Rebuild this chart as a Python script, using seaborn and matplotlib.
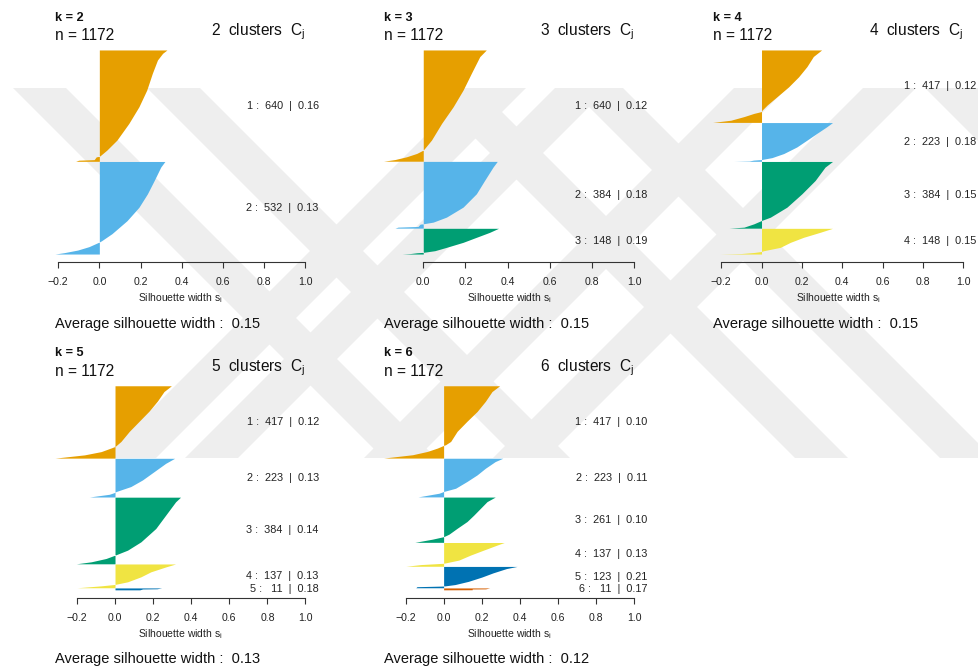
import numpy as np
import matplotlib
matplotlib.use("Agg")
import matplotlib.pyplot as plt
from matplotlib.patches import Polygon
from matplotlib.transforms import blended_transform_factory
import seaborn as sns

# ---------------------------------------------------------------- data
N_OBS = 1172
CLUSTER_COLORS = ["#E69F00", "#56B4E9", "#009E73", "#F0E442", "#0072B2", "#D55E00"]
X_TICKS = [-0.2, 0.0, 0.2, 0.4, 0.6, 0.8, 1.0]

K2_SIZES = [640, 532]
K2_AVG = [0.16, 0.13]
K2_TOTAL_AVG = 0.15
# sorted silhouette widths of each cluster: (position inside the cluster 0..1, width)
K2_PROFILES = [
    [(0, 0.328), (0.03, 0.307), (0.09, 0.282), (0.21, 0.257), (0.36, 0.23), (0.51, 0.192),
     (0.66, 0.143), (0.81, 0.085), (0.90, 0.036), (0.945, 0.007), (0.955, 0.0), (0.96, -0.015),
     (0.985, -0.025), (0.99, -0.1), (1.0, -0.115)],
    [(0, 0.318), (0.06, 0.298), (0.206, 0.266), (0.35, 0.233), (0.495, 0.192), (0.64, 0.134),
     (0.78, 0.061), (0.856, 0.011), (0.87, 0.0), (0.92, -0.05), (0.957, -0.105), (0.985, -0.17),
     (1.0, -0.215)],
]

K3_SIZES = [640, 384, 148]
K3_AVG = [0.12, 0.18, 0.19]
K3_TOTAL_AVG = 0.15
K3_PROFILES = [
    [(0, 0.299), (0.06, 0.268), (0.21, 0.228), (0.36, 0.189), (0.51, 0.142), (0.66, 0.087),
     (0.81, 0.039), (0.87, 0.013), (0.90, 0.0), (0.93, -0.031), (0.96, -0.079), (0.985, -0.134),
     (1.0, -0.188)],
    [(0, 0.351), (0.085, 0.331), (0.285, 0.291), (0.485, 0.252), (0.685, 0.189), (0.835, 0.11),
     (0.91, 0.047), (0.935, 0.0), (0.94, -0.015), (0.975, -0.025), (0.985, -0.12), (1.0, -0.134)],
    [(0, 0.357), (0.156, 0.315), (0.35, 0.252), (0.545, 0.189), (0.74, 0.11), (0.87, 0.055),
     (0.935, 0.0), (0.95, -0.03), (0.98, -0.06), (1.0, -0.1)],
]

K4_SIZES = [417, 223, 384, 148]
K4_AVG = [0.12, 0.18, 0.15, 0.15]
K4_TOTAL_AVG = 0.15
K4_PROFILES = [
    [(0, 0.298), (0.09, 0.257), (0.23, 0.225), (0.37, 0.184), (0.51, 0.134), (0.645, 0.077),
     (0.76, 0.028), (0.83, 0.003), (0.85, 0.0), (0.876, -0.038), (0.92, -0.087), (0.97, -0.152),
     (1.0, -0.242)],
    [(0, 0.352), (0.11, 0.323), (0.28, 0.274), (0.455, 0.225), (0.63, 0.175), (0.8, 0.11),
     (0.905, 0.052), (0.955, 0.0), (0.97, -0.04), (0.99, -0.06), (1.0, -0.136)],
    [(0, 0.352), (0.085, 0.315), (0.285, 0.266), (0.485, 0.2), (0.685, 0.126), (0.835, 0.044),
     (0.885, 0.0), (0.935, -0.038), (0.985, -0.087), (1.0, -0.161)],
    [(0, 0.352), (0.156, 0.29), (0.35, 0.208), (0.545, 0.143), (0.74, 0.093), (0.87, 0.011),
     (0.9, 0.0), (0.94, -0.038), (0.98, -0.1), (1.0, -0.205)],
]

K5_SIZES = [417, 223, 384, 137, 11]
K5_AVG = [0.12, 0.13, 0.14, 0.13, 0.18]
K5_TOTAL_AVG = 0.13
K5_PROFILES = [
    [(0, 0.296), (0.08, 0.257), (0.21, 0.223), (0.35, 0.179), (0.49, 0.127), (0.63, 0.075),
     (0.77, 0.031), (0.84, 0.0), (0.86, -0.021), (0.91, -0.073), (0.955, -0.16), (1.0, -0.315)],
    [(0, 0.313), (0.13, 0.266), (0.345, 0.205), (0.56, 0.144), (0.73, 0.083), (0.86, 0.005),
     (0.88, 0.0), (0.93, -0.03), (1.0, -0.134)],
    [(0, 0.344), (0.07, 0.318), (0.27, 0.266), (0.47, 0.214), (0.67, 0.136), (0.795, 0.066),
     (0.87, 0.0), (0.92, -0.047), (0.97, -0.125), (1.0, -0.203)],
    [(0, 0.318), (0.125, 0.266), (0.33, 0.188), (0.54, 0.136), (0.75, 0.066), (0.86, 0.0),
     (0.92, -0.073), (1.0, -0.198)],
    [(0, 0.245), (0.45, 0.22), (0.55, 0.145), (1.0, 0.13)],
]

K6_SIZES = [417, 223, 261, 137, 123, 11]
K6_AVG = [0.10, 0.11, 0.10, 0.13, 0.21, 0.17]
K6_TOTAL_AVG = 0.12
K6_PROFILES = [
    [(0, 0.294), (0.08, 0.254), (0.216, 0.219), (0.355, 0.176), (0.49, 0.123), (0.63, 0.071),
     (0.77, 0.037), (0.816, 0.01), (0.825, 0.0), (0.862, -0.033), (0.908, -0.085),
     (0.954, -0.163), (1.0, -0.315)],
    [(0, 0.311), (0.086, 0.271), (0.26, 0.219), (0.43, 0.176), (0.6, 0.123), (0.776, 0.063),
     (0.86, 0.0), (0.905, -0.024), (1.0, -0.134)],
    [(0, 0.271), (0.1, 0.228), (0.25, 0.193), (0.4, 0.158), (0.54, 0.123), (0.69, 0.071),
     (0.82, 0.028), (0.875, 0.0), (0.93, -0.059), (1.0, -0.151)],
    [(0, 0.318), (0.11, 0.28), (0.32, 0.21), (0.53, 0.141), (0.74, 0.08), (0.875, 0.0),
     (0.93, -0.12), (1.0, -0.198)],
    [(0, 0.386), (0.1, 0.33), (0.3, 0.26), (0.5, 0.2), (0.7, 0.13), (0.85, 0.06), (0.92, 0.0),
     (0.95, -0.14), (1.0, -0.146)],
    [(0, 0.242), (0.5, 0.22), (0.55, 0.15), (0.95, 0.15), (1.0, -0.012)],
]

PANELS = [
    (2, K2_SIZES, K2_AVG, K2_PROFILES, K2_TOTAL_AVG),
    (3, K3_SIZES, K3_AVG, K3_PROFILES, K3_TOTAL_AVG),
    (4, K4_SIZES, K4_AVG, K4_PROFILES, K4_TOTAL_AVG),
    (5, K5_SIZES, K5_AVG, K5_PROFILES, K5_TOTAL_AVG),
    (6, K6_SIZES, K6_AVG, K6_PROFILES, K6_TOTAL_AVG),
]

# ---------------------------------------------------------------- layout (pixels)
FIG_W, FIG_H, DPI = 979, 668, 100
COL_LEFT = [45.0, 373.6, 702.7]
ROW_OFFSET = [0.0, 335.8]
PANEL_W, PANEL_TOP, PANEL_H = 270.5, 41.8, 220.4

# light grey background emblem: diagonal stripes between two horizontal cuts
MARK_TOP, MARK_BOTTOM, MARK_SHIFT = 88, 458, 370
MARK_BACK_STRIPES = [13, 147, 425, 570, 925]     # "\" stripes, left x at the top cut
MARK_FWD_STRIPES = [103, 185, 364, 493]          # "/" stripes, left x at the bottom cut
MARK_STRIPE_W = 53
MARK_COLOR = "#eeeeee"

sns.set_theme(style="white")
plt.rcParams["font.family"] = ["Liberation Sans", "DejaVu Sans"]
plt.rcParams["mathtext.fontset"] = "custom"
plt.rcParams["mathtext.rm"] = "Liberation Sans"
plt.rcParams["mathtext.it"] = "Liberation Sans"
plt.rcParams["mathtext.default"] = "regular"
plt.rcParams["axes.unicode_minus"] = True

fig = plt.figure(figsize=(FIG_W / DPI, FIG_H / DPI), dpi=DPI)
fig.patch.set_facecolor("white")


def fx(x):
    return x / FIG_W


def fy(y):
    return 1 - y / FIG_H


# background emblem, in pixel coordinates on a full-figure axes
bg = fig.add_axes([0, 0, 1, 1], zorder=-10)
bg.set_xlim(0, FIG_W)
bg.set_ylim(FIG_H, 0)
bg.axis("off")
for x0 in MARK_BACK_STRIPES:
    pts = [(x0, MARK_TOP), (x0 + MARK_STRIPE_W, MARK_TOP),
           (x0 + MARK_STRIPE_W + MARK_SHIFT, MARK_BOTTOM), (x0 + MARK_SHIFT, MARK_BOTTOM)]
    bg.add_patch(Polygon(pts, closed=True, facecolor=MARK_COLOR, edgecolor="none"))
for x0 in MARK_FWD_STRIPES:
    pts = [(x0, MARK_BOTTOM), (x0 + MARK_STRIPE_W, MARK_BOTTOM),
           (x0 + MARK_STRIPE_W + MARK_SHIFT, MARK_TOP), (x0 + MARK_SHIFT, MARK_TOP)]
    bg.add_patch(Polygon(pts, closed=True, facecolor=MARK_COLOR, edgecolor="none"))


def draw_panel(slot, k, sizes, avgs, profiles, total_avg):
    col, row = slot % 3, slot // 3
    left, off = COL_LEFT[col], ROW_OFFSET[row]
    top = PANEL_TOP + off
    ax = fig.add_axes([fx(left), fy(top + PANEL_H), PANEL_W / FIG_W, PANEL_H / FIG_H])
    ax.set_facecolor("none")

    starts, pos = [], 0
    for n in sizes:
        starts.append(pos)
        pos += n + 1
    total = pos - 1

    xmin = min(w for prof in profiles for _, w in prof)
    span = 1.0 - xmin
    ax.set_xlim(xmin - 0.04 * span, 1.0 + 0.04 * span)
    ax.set_ylim(total * 1.04, -0.04 * total)

    trans = blended_transform_factory(ax.transAxes, ax.transData)
    for i, (n, prof) in enumerate(zip(sizes, profiles)):
        frac = np.array([p[0] for p in prof])
        width = np.array([p[1] for p in prof])
        yy = starts[i] + frac * n
        ax.fill_betweenx(yy, 0, width, color=CLUSTER_COLORS[i], linewidth=0, antialiased=True)
        label = f"{i + 1} :  {n:>3}  |  {avgs[i]:.2f}"
        ax.annotate(label, xy=(1.0, starts[i] + n / 2), xycoords=trans,
                    xytext=(3.3 * 0.72, 0), textcoords="offset points",
                    ha="right", va="center", fontsize=7.8, color="#222222")

    ticks = [t for t in X_TICKS if t >= xmin - 1e-9]
    ax.set_xticks(ticks)
    ax.set_xticklabels([f"{t:.1f}".replace("-", "\u2212") for t in ticks])
    ax.set_yticks([])
    for side in ("left", "top", "right"):
        ax.spines[side].set_visible(False)
    ax.spines["bottom"].set_bounds(ticks[0], 1.0)
    ax.spines["bottom"].set_color("#333333")
    ax.spines["bottom"].set_linewidth(0.8)
    ax.tick_params(axis="x", bottom=True, length=4.3, width=0.8, color="#333333",
                   pad=6.3, labelsize=7.6, labelcolor="#222222")

    tx = left + 10
    fig.text(fx(tx), fy(off + 20.7), f"k = {k}", fontsize=9.2, fontweight="bold",
             ha="left", va="baseline", color="#111111")
    fig.text(fx(tx), fy(off + 40.3), f"n = {N_OBS}", fontsize=11.2,
             ha="left", va="baseline", color="#111111")
    fig.text(fx(left + PANEL_W - 10), fy(off + 35.5), f"{k}  clusters  C$_j$",
             fontsize=11.2, ha="right", va="baseline", color="#111111")
    fig.text(fx(left + PANEL_W / 2), fy(off + 301.5), "Silhouette width s$_i$",
             fontsize=7.5, ha="center", va="baseline", color="#222222")
    fig.text(fx(tx), fy(off + 327.7), f"Average silhouette width :  {total_avg:.2f}",
             fontsize=10.5, ha="left", va="baseline", color="#111111")


for slot, panel in enumerate(PANELS):
    draw_panel(slot, *panel)

fig.savefig("out.png", dpi=DPI, facecolor="white")
